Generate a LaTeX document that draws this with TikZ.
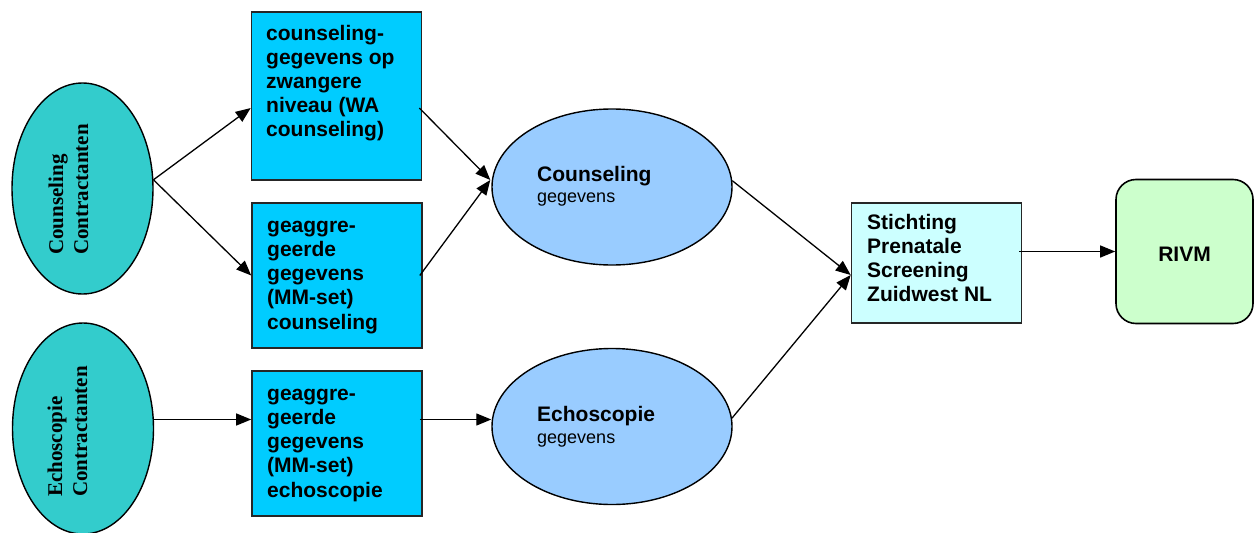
\documentclass[tikz,border=0pt]{standalone}
\usepackage{fontspec}
\setmainfont{Liberation Sans}
\newfontfamily\serifb{Liberation Serif}
\usetikzlibrary{arrows.meta,calc,shapes.geometric}
\definecolor{turq}{HTML}{33CCCC}
\definecolor{boxblue}{HTML}{00CCFF}
\definecolor{ellblue}{HTML}{99CCFF}
\definecolor{lcyan}{HTML}{CCFFFF}
\definecolor{lgreen}{HTML}{CCFFCC}
\begin{document}
\begin{tikzpicture}[x=1pt,y=-1pt,
 contr/.style={ellipse, draw=black, line width=1.4pt, fill=turq, minimum width=141pt, minimum height=211pt, inner sep=0},
 databox/.style={rectangle, draw=black!85, line width=1.6pt, fill=boxblue, minimum width=170pt, inner sep=0},
 dataell/.style={ellipse, draw=black, line width=1.4pt, fill=ellblue, minimum width=240pt, minimum height=156pt, inner sep=0},
 txt/.style={inner sep=0, anchor=base west, font=\fontsize{21}{24.15}\selectfont\bfseries},
 rtxt/.style={inner sep=0, anchor=base west, rotate=90, font=\serifb\fontsize{21}{25}\selectfont\bfseries},
 arr/.style={line width=1.3pt, -{Triangle[length=15pt,width=12pt]}},
]
\useasboundingbox (0,0) rectangle (1254,533);

% contractanten
\node[contr] (cc) at (82.5,188.5) {};
\node[contr] (ec) at (83,428.5) {};
\node[rtxt] (cct) at (63,255) {\parbox[t]{150pt}{Counseling\\Contractanten}};
\node[rtxt] (ect) at (62,497) {\parbox[t]{150pt}{Echoscopie\\Contractanten}};

% data boxes
\node[databox, minimum height=168pt] (b1) at (336.5,96) {};
\node[databox, minimum height=145pt] (b2) at (337,275.5) {};
\node[databox, minimum height=145pt] (b3) at (337,443.5) {};
\node[txt] (b1t) at (266,40) {\parbox[t]{150pt}{counseling-\\gegevens op\\zwangere\\niveau (WA\\counseling)}};
\node[txt] (b2t) at (267,232.5) {\parbox[t]{150pt}{geaggre-\\geerde\\gegevens\\(MM-set)\\counseling}};
\node[txt] (b3t) at (267,400.5) {\parbox[t]{150pt}{geaggre-\\geerde\\gegevens\\(MM-set)\\echoscopie}};

% data ellipses
\node[dataell] (ce) at (612,187) {};
\node[dataell] (ee) at (612,426.5) {};
\node[inner sep=0, anchor=base west] (cet) at (537,181.7) {\parbox[t]{150pt}{\fontsize{21}{21}\selectfont\bfseries Counseling\\\fontsize{18}{21}\selectfont\mdseries gegevens}};
\node[inner sep=0, anchor=base west] (eet) at (537,421.5) {\parbox[t]{150pt}{\fontsize{21}{21.5}\selectfont\bfseries Echoscopie\\\fontsize{18}{21.5}\selectfont\mdseries gegevens}};

% stichting
\node[rectangle, draw=black!85, line width=1.6pt, fill=lcyan, minimum width=170pt, minimum height=120pt, inner sep=0] (st) at (936.5,263) {};
\node[txt] (stt) at (867,229) {\parbox[t]{150pt}{Stichting\\Prenatale\\Screening\\Zuidwest NL}};

% RIVM
\node[rectangle, rounded corners=20pt, draw=black, line width=1.6pt, fill=lgreen, minimum width=137pt, minimum height=144pt, inner sep=0, text height=19pt, text depth=0pt, font=\fontsize{21}{24}\selectfont\bfseries] (rv) at (1184.5,251.5) {RIVM};

% connectors
\coordinate (cin) at ($(ce.west)+(-1,-7)$);
\coordinate (sin) at ($(st.west)+(0,12)$);
\coordinate (lv) at ($(ee.west)+(0,-7)$);
\draw[arr] (cc.7) -- ($(b1.west)+(0,12)$);
\draw[arr] (cc.7) -- (b2.west);
\draw[arr] (ec.east |- lv) -- (b3.west |- lv);
\draw[arr] ($(b1.east)+(-3,12)$) -- (cin);
\draw[arr] ($(b2.east)+(-3,0)$) -- (cin);
\draw[arr] ($(b3.east |- lv)+(-3,0)$) -- (lv);
\draw[arr] (ce.3.5) -- (sin);
\draw[arr] (ee.4) -- (sin);
\draw[arr] ($(st.east |- rv.west)+(-3,0)$) -- (rv.west);
\end{tikzpicture}
\end{document}
